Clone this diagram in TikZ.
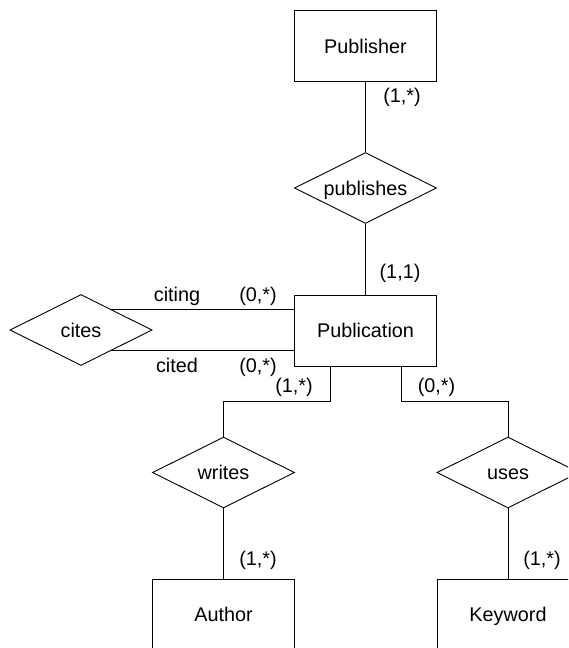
\documentclass[tikz,border=0pt]{standalone}
\usepackage{fontspec}
\setmainfont{Liberation Sans}
\usetikzlibrary{shapes.geometric}
\tikzset{
  erfont/.style={font=\fontsize{19.8}{23}\selectfont},
  entity/.style={draw, rectangle, erfont, inner sep=0pt, minimum width=142pt, minimum height=71pt, text height=14pt, text depth=0pt},
  relation/.style={draw, diamond, aspect=2, erfont, inner sep=0pt, minimum width=142pt, minimum height=71pt, text height=14pt, text depth=0pt},
  card/.style={erfont, inner sep=0pt, anchor=base},
  conn/.style={line width=0.9pt}
}
\begin{document}
\begin{tikzpicture}[x=1pt, y=-1pt, line width=0.9pt]
\useasboundingbox (0,0) rectangle (568,648);
\clip (0,0) rectangle (568,648);
\fill[white] (0,0) rectangle (568,648);
% entities and relationships
\node[entity]   (publisher)   at (365.5,46)    {Publisher};
\node[relation] (publishes)   at (365.5,188)   {publishes};
\node[entity]   (publication) at (365.5,330.5) {Publication};
\node[relation] (cites)       at (81,330)      {cites};
\node[relation] (writes)      at (223.5,472.5) {writes};
\node[relation] (uses)        at (508,472.5)   {uses};
\node[entity]   (author)      at (223.5,614.5) {Author};
\node[entity]   (keyword)     at (508,614.5)   {Keyword};
% connectors
\draw[conn] (publisher.south) -- (publishes.north);
\draw[conn] (publishes.south) -- (publication.north);
\draw[conn] (cites.35) -- (cites.35 -| publication.west);
\draw[conn] (cites.-35) -- (cites.-35 -| publication.west);
\draw[conn] ([xshift=-35.5pt]publication.south) -- ++(0,35) -| (writes.north);
\draw[conn] ([xshift=35.5pt]publication.south) -- ++(0,35) -| (uses.north);
\draw[conn] (writes.south) -- (author.north);
\draw[conn] (uses.south) -- (keyword.north);
% labels
\node[card] (l1) at (402,102) {(1,*)};
\node[card] (l2) at (400,278) {(1,1)};
\node[card] (l3) at (177,301) {citing};
\node[card] (l4) at (258,301) {(0,*)};
\node[card] (l5) at (177,372) {cited};
\node[card] (l6) at (258,372) {(0,*)};
\node[card] (l7) at (294,392) {(1,*)};
\node[card] (l8) at (436.5,392) {(0,*)};
\node[card] (l9) at (258,565) {(1,*)};
\node[card] (l10) at (542,565) {(1,*)};
\end{tikzpicture}
\end{document}
